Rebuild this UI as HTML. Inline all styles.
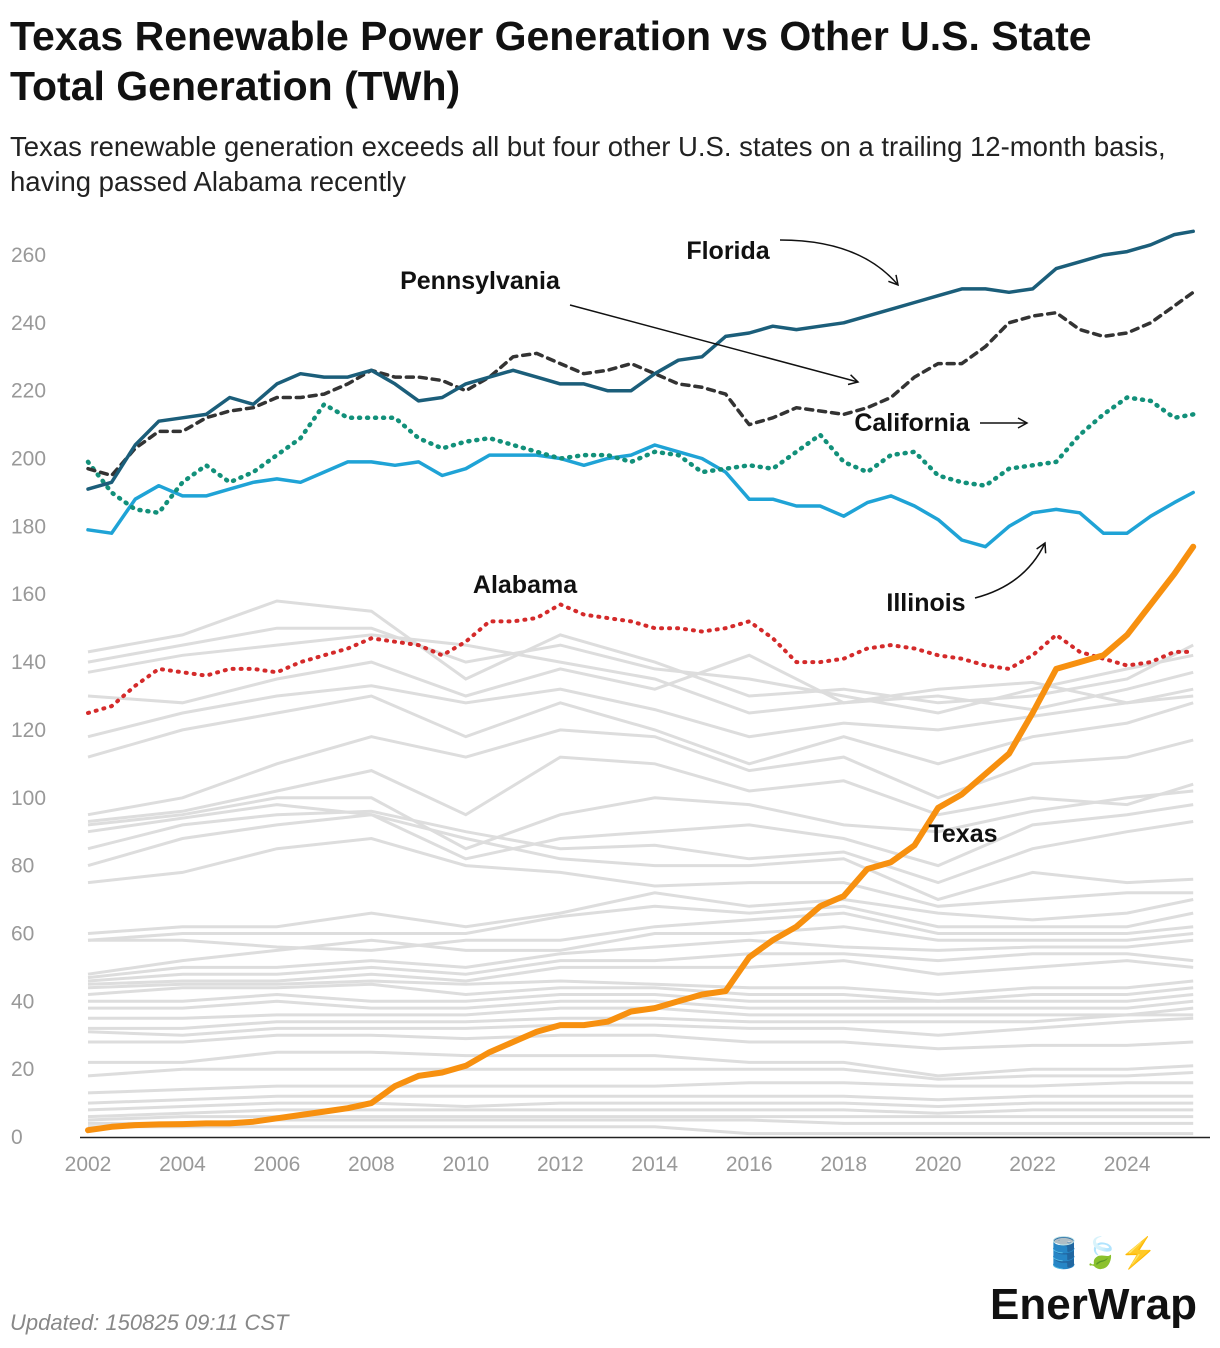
<!DOCTYPE html>
<html><head><meta charset="utf-8">
<style>
body{margin:0;background:#fff;font-family:"Liberation Sans",sans-serif;}
#wrap{position:relative;width:1220px;height:1348px;overflow:hidden;}
.t{position:absolute;margin:0;white-space:nowrap;}
</style></head>
<body>
<div id="wrap">
<h1 class="t" style="left:10px;top:11px;font-size:41px;line-height:50px;font-weight:bold;color:#111;">Texas Renewable Power Generation vs Other U.S. State<br>Total Generation (TWh)</h1>
<div class="t" style="left:10px;top:129px;font-size:27.5px;line-height:35px;color:#222;">Texas renewable generation exceeds all but four other U.S. states on a trailing 12-month basis,<br>having passed Alabama recently</div>
<svg id="chart" width="1220" height="1348" style="position:absolute;left:0;top:0"></svg>
<div class="t" style="left:10px;top:1310px;font-size:22px;font-style:italic;color:#888;">Updated: 150825 09:11 CST</div>
<div class="t" style="left:1045px;top:1236px;font-size:30px;">🛢️🍃⚡</div>
<div class="t" style="left:990px;top:1280px;font-size:44px;font-weight:bold;color:#111;">EnerWrap</div>
</div>
<script>
const halfYears=[];for(let y=2002;y<=2025.01;y+=0.5)halfYears.push(y);halfYears.push(2025.4);
const texas=[2,3,3.5,3.7,3.8,4,4,4.5,5.5,6.5,7.5,8.5,10,15,18,19,21,25,28,31,33,33,34,37,38,40,42,43,53,58,62,68,71,79,81,86,97,101,107,113,125,138,140,142,148,157,166,174];
const florida=[191,193,204,211,212,213,218,216,222,225,224,224,226,222,217,218,222,224,226,224,222,222,220,220,225,229,230,236,237,239,238,239,240,242,244,246,248,250,250,249,250,256,258,260,261,263,266,267];
const pennsylvania=[197,195,203,208,208,212,214,215,218,218,219,222,226,224,224,223,220,224,230,231,228,225,226,228,225,222,221,219,210,212,215,214,213,215,218,224,228,228,233,240,242,243,238,236,237,240,245,249];
const california=[199,190,185,184,193,198,193,196,201,206,216,212,212,212,206,203,205,206,204,202,200,201,201,199,202,201,196,197,198,197,202,207,199,196,201,202,195,193,192,197,198,199,207,213,218,217,212,213];
const illinois=[179,178,188,192,189,189,191,193,194,193,196,199,199,198,199,195,197,201,201,201,200,198,200,201,204,202,200,196,188,188,186,186,183,187,189,186,182,176,174,180,184,185,184,178,178,183,187,190];
const alabama=[125,127,133,138,137,136,138,138,137,140,142,144,147,146,145,142,146,152,152,153,157,154,153,152,150,150,149,150,152,147,140,140,141,144,145,144,142,141,139,138,142,148,143,141,139,140,143,143];
const grayYears=[2002,2004,2006,2008,2010,2012,2014,2016,2018,2020,2022,2024,2025.4];
const grayStates=[
[143,148,158,155,135,148,140,130,132,128,130,135,145],
[140,145,150,150,140,145,138,135,130,125,132,138,142],
[130,128,135,140,130,138,132,142,128,130,126,132,137],
[118,125,130,133,128,132,126,118,122,120,124,128,132],
[112,120,125,130,118,128,120,110,118,110,118,122,128],
[95,100,110,118,112,120,118,108,112,100,110,112,117],
[93,96,102,108,95,112,110,102,105,95,100,98,104],
[92,95,100,100,85,95,100,98,92,90,96,100,102],
[90,94,98,95,82,88,90,92,88,80,92,95,98],
[85,92,95,96,90,85,86,82,84,75,85,90,93],
[80,88,92,95,88,82,80,80,82,70,78,75,76],
[75,78,85,88,80,78,74,75,75,68,70,72,72],
[60,62,62,66,62,66,72,68,70,66,64,66,70],
[58,60,60,60,60,65,68,66,68,62,62,62,66],
[58,58,56,55,58,58,62,64,66,60,60,60,62],
[48,52,55,58,55,55,60,60,62,58,58,58,60],
[47,50,50,52,50,54,56,58,56,55,56,56,58],
[46,48,48,50,48,52,52,54,54,52,54,54,52],
[45,46,46,48,46,50,50,50,52,48,50,52,50],
[44,45,45,46,45,46,45,44,44,42,44,44,46],
[42,44,44,45,42,44,44,42,42,40,42,42,44],
[40,40,42,40,40,42,42,40,40,40,40,40,42],
[38,38,40,38,38,40,40,38,38,38,38,38,40],
[35,35,36,36,36,38,38,36,36,36,36,36,38],
[32,32,34,34,34,35,35,34,34,34,34,36,36],
[31,30,32,32,32,33,33,32,32,30,32,34,35],
[28,28,30,30,29,30,30,28,28,26,27,27,28],
[22,22,25,25,24,24,24,22,22,18,20,20,21],
[18,20,20,20,20,20,20,20,20,17,18,18,19],
[13,14,15,15,15,15,15,16,16,15,15,16,16],
[10,11,12,12,12,12,12,12,12,11,12,12,12],
[8,9,10,10,9,10,10,10,10,9,10,10,10],
[6,7,8,8,8,8,8,8,8,7,8,8,8],
[5,6,6,6,6,6,6,6,6,6,6,6,6],
[4,4,5,5,5,5,5,5,4,4,4,4,4],
[3,3,3,3,3,3,3,1,1,1,1,1,1],
[137,142,145,148,145,140,135,125,128,132,134,128,130]
];
const yTicks=[0,20,40,60,80,100,120,140,160,180,200,220,240,260];
const xTicks=[2002,2004,2006,2008,2010,2012,2014,2016,2018,2020,2022,2024];
const NS='http://www.w3.org/2000/svg';
const svg=document.getElementById('chart');
const X=y=>88+(y-2002)*47.23;
const Y=v=>1137-v*(882/260);
function mk(tag,attrs){const e=document.createElementNS(NS,tag);for(const k in attrs)e.setAttribute(k,attrs[k]);svg.appendChild(e);return e;}
yTicks.forEach(v=>{const t=mk('text',{x:11,y:Y(v)+7,'font-size':21,fill:'#999'});t.textContent=v;

});
xTicks.forEach(v=>{const t=mk('text',{x:X(v),y:1171,'font-size':21,fill:'#999','text-anchor':'middle'});t.textContent=v;

});
const ax=mk('line',{x1:80,x2:1210,y1:1137.5,y2:1137.5,stroke:'#222','stroke-width':1.5});


function path(xs,vals){return vals.map((v,i)=>(i?'L':'M')+X(xs[i]).toFixed(1)+' '+Y(v).toFixed(1)).join(' ');}
grayStates.forEach(s=>{const p=mk('path',{d:path(grayYears,s),fill:'none',stroke:'#ddd','stroke-width':3});

});
const series=[
['alabama-line',alabama,'#d42a2a','1 7',4],
['illinois-line',illinois,'#1fa3d6','',3.5],
['california-line',california,'#12907a','1 7',4.5],
['pennsylvania-line',pennsylvania,'#333','7 6',3.5],
['florida-line',florida,'#1b5e7a','',3.5],
['texas-line',texas,'#f7900f','',6]];
series.forEach(([n,v,c,d,w])=>{const p=mk('path',{d:path(halfYears,v),fill:'none',stroke:c,'stroke-width':w,'stroke-linecap':'round','stroke-linejoin':'round'});if(d)p.setAttribute('stroke-dasharray',d);

});
const labels=[['Florida',728,259],['Pennsylvania',480,289],['California',912,431],['Illinois',926,611],['Alabama',525,593],['Texas',963,842]];
labels.forEach(([t,x,y])=>{const e=mk('text',{x:x,y:y,'font-size':25,'font-weight':'bold',fill:'#111','text-anchor':'middle'});e.textContent=t;

});
mk('defs',{}).innerHTML='<marker id="ar" markerWidth="12" markerHeight="12" refX="10" refY="6" orient="auto" markerUnits="userSpaceOnUse"><path d="M1 1 L10 6 L1 11" fill="none" stroke="#111" stroke-width="1.5"/></marker>';
const arrows=[['M780 240 Q860 240 898 285'],['M570 305 L858 382'],['M980 423 L1027 423'],['M975 598 Q1025 585 1045 543']];
arrows.forEach(([d])=>{const a=mk('path',{d:d,fill:'none',stroke:'#111','stroke-width':1.5,'marker-end':'url(#ar)'});

});
</script>
</body></html>
